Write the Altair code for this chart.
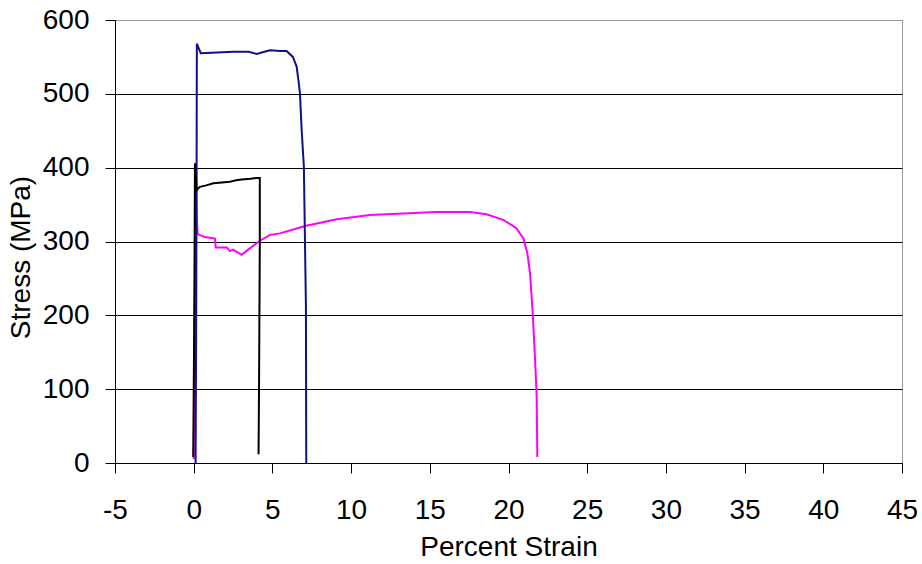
import altair as alt
import pandas as pd

# Series data (Percent Strain, Stress MPa)
magenta_strain = [0.0, 0.05, 0.1, 0.15, 0.2, 0.25, 0.72, 1.35, 1.4, 2.1, 2.3, 2.5, 2.73, 3.05,
                  3.58, 4.21, 4.85, 5.48, 6.75, 7.07, 9.09, 11.2, 13.3, 15.4, 17.55, 18.6,
                  19.7, 20.5, 20.95, 21.2, 21.37, 21.54, 21.68, 21.79, 21.83]
magenta_stress = [5, 110, 250, 395, 330, 310, 306, 304, 292, 292, 287, 289, 286, 282,
                  291, 301, 309, 311, 319, 321, 330, 336, 338, 340, 340, 337,
                  329, 318, 304, 284, 257, 203, 144, 90, 8]

blue_strain = [0.12, 0.16, 0.19, 0.2, 0.45, 1.5, 2.5, 3.5, 4.0, 4.5, 4.85, 5.5, 5.9,
               6.3, 6.54, 6.65, 6.75, 6.86, 7.0, 7.13, 7.15]
blue_stress = [0, 200, 450, 568, 555, 556, 557, 557, 554, 557, 559, 558, 558,
               550, 537, 519, 501, 451, 401, 212, 0]

black_strain = [-0.03, 0.02, 0.06, 0.08, 0.19, 0.4, 0.8, 1.25, 1.8, 2.3, 2.7, 3.05,
                3.6, 4.0, 4.2, 4.2, 4.15, 4.12]
black_stress = [8, 150, 300, 406, 370, 374, 376, 379, 380, 381, 383, 384,
                385, 386, 386, 300, 100, 12]

x_ticks = list(range(-5, 50, 5))
y_ticks = list(range(0, 700, 100))

FONT = "Liberation Sans"


def frame(xs, ys):
    return pd.DataFrame({"strain": xs, "stress": ys, "idx": list(range(len(xs)))})


x_enc = alt.X(
    "strain:Q",
    scale=alt.Scale(domain=[-5, 45], nice=False, zero=False),
    axis=alt.Axis(
        title="Percent Strain",
        values=x_ticks,
        labelExpr="'' + datum.value",
        grid=False,
        tickSize=10,
        tickColor="black",
        domainColor="black",
        labelFont=FONT,
        labelFontSize=28,
        labelColor="black",
        labelBaseline="alphabetic",
        labelPadding=45,
        titleFont=FONT,
        titleFontSize=28,
        titleFontWeight="normal",
        titleColor="black",
        titleBaseline="alphabetic",
        titleY=92,
        labelFlush=False,
    ),
)

y_enc = alt.Y(
    "stress:Q",
    scale=alt.Scale(domain=[0, 600], nice=False),
    axis=alt.Axis(
        title="Stress (MPa)",
        values=y_ticks,
        labelExpr="'' + datum.value",
        grid=True,
        gridColor={"condition": {"test": "datum.value === 600", "value": "#999999"}, "value": "black"},
        gridWidth=1,
        tickSize=10,
        tickColor="black",
        domainColor="black",
        labelFont=FONT,
        labelFontSize=28,
        labelColor="black",
        labelPadding=16,
        titleFont=FONT,
        titleFontSize=28,
        titleFontWeight="normal",
        titleColor="black",
        titleAngle=-90,
        titleAlign="center",
        titleBaseline="middle",
        titleX=-94,
        titleY=237,
    ),
)


def line(df, color):
    return alt.Chart(df).mark_line(color=color, strokeWidth=2, clip=True).encode(
        x=x_enc, y=y_enc, order="idx:Q"
    )


chart = alt.layer(
    line(frame(magenta_strain, magenta_stress), "#ff00ff"),
    line(frame(blue_strain, blue_stress), "#10108a"),
    line(frame(black_strain, black_stress), "#000000"),
).properties(
    width=787,
    height=443,
    autosize=alt.AutoSizeParams(type="none"),
    padding={"left": 115, "top": 20, "right": 20, "bottom": 101},
    background="white",
).configure_view(stroke="#999999", strokeWidth=1)

chart.save("out.html", embed_options={"renderer": "svg", "actions": False})
